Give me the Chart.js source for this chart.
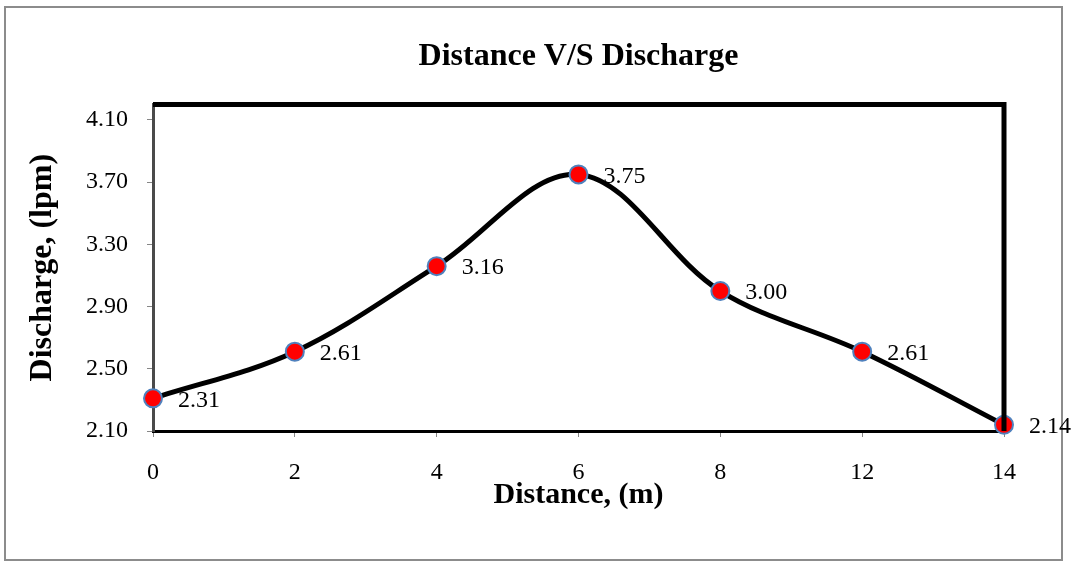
<!DOCTYPE html>
<html lang="en">
<head>
  <meta charset="UTF-8" />
  <title>Distance V/S Discharge</title>
  <script src="https://cdn.jsdelivr.net/npm/chart.js"></script>
  <style>
    body {
      margin: 0;
      background: #ffffff;
    }

    .wrap {
      width: 1071px;
      height: 567px;
    }
  </style>
</head>
<body>

  <div class="wrap">
    <canvas id="dischargeChart" width="1071" height="567"></canvas>
  </div>

  <script>
    // data
    const distances = ['0', '2', '4', '6', '8', '12', '14'];
    const discharge = [2.31, 2.61, 3.16, 3.75, 3.00, 2.61, 2.14];
    const yTicks = [2.10, 2.50, 2.90, 3.30, 3.70, 4.10];

    const serif = "'Liberation Serif', 'Times New Roman', serif";

    // outer frame, top/right plot border and the value labels
    const decor = {
      id: 'decor',
      beforeDraw(chart) {
        const ctx = chart.ctx;
        ctx.save();
        ctx.strokeStyle = '#8c8c8c';
        ctx.lineWidth = 2;
        ctx.strokeRect(5, 7, 1057, 553);
        ctx.restore();
      },
      afterDatasetsDraw(chart) {
        const ctx = chart.ctx;
        const area = chart.chartArea;
        ctx.save();
        ctx.strokeStyle = '#000';
        ctx.lineWidth = 5;
        ctx.beginPath();
        ctx.moveTo(area.left, area.top);
        ctx.lineTo(area.right, area.top);
        ctx.lineTo(area.right, area.bottom);
        ctx.stroke();

        const meta = chart.getDatasetMeta(0);
        ctx.fillStyle = '#000';
        ctx.font = '24px ' + serif;
        ctx.textAlign = 'left';
        ctx.textBaseline = 'middle';
        meta.data.forEach((pt, i) => {
          ctx.fillText(discharge[i].toFixed(2), pt.x + 25, pt.y + 2);
        });
        ctx.restore();
      }
    };

    new Chart(document.getElementById('dischargeChart').getContext('2d'), {
      type: 'line',
      data: {
        labels: distances,
        datasets: [{
          data: discharge,
          borderColor: '#000',
          borderWidth: 5,
          tension: 0.35,
          pointRadius: 9,
          pointHoverRadius: 9,
          pointBackgroundColor: '#ff0000',
          pointBorderColor: '#4f81bd',
          pointBorderWidth: 2,
          clip: false
        }]
      },
      options: {
        responsive: false,
        animation: false,
        events: [],
        layout: {
          padding: { top: 10, left: 20, right: 67, bottom: 54 }
        },
        plugins: {
          legend: { display: false },
          tooltip: { enabled: false },
          title: {
            display: true,
            text: 'Distance V/S Discharge',
            fullSize: false,
            color: '#000',
            font: { family: serif, size: 32, weight: 'bold' },
            padding: { top: 28, bottom: 28 }
          }
        },
        scales: {
          x: {
            type: 'category',
            offset: false,
            afterFit(scale) {
              scale.height = 82;
            },
            grid: { drawOnChartArea: false, tickLength: 6, color: '#868686' },
            border: { color: '#000', width: 3 },
            ticks: {
              color: '#000',
              padding: 21,
              font: { family: serif, size: 24 },
              maxRotation: 0
            },
            title: {
              display: true,
              text: 'Distance, (m)',
              color: '#000',
              font: { family: serif, size: 30, weight: 'bold' },
              padding: { top: 0, bottom: 0 }
            }
          },
          y: {
            min: 2.1,
            max: 4.2,
            afterBuildTicks(scale) {
              scale.ticks = yTicks.map(v => ({ value: v }));
            },
            afterFit(scale) {
              scale.width = 133;
            },
            grid: { drawOnChartArea: false, tickLength: 6, color: '#868686' },
            border: { color: '#4a4a4a', width: 3 },
            ticks: {
              color: '#000',
              padding: 19,
              font: { family: serif, size: 24 },
              callback: v => Number(v).toFixed(2)
            },
            title: {
              display: true,
              text: 'Discharge, (lpm)',
              color: '#000',
              font: { family: serif, size: 32, weight: 'bold' },
              padding: { top: 4, bottom: 0 }
            }
          }
        }
      },
      plugins: [decor]
    });
  </script>
</body>
</html>
